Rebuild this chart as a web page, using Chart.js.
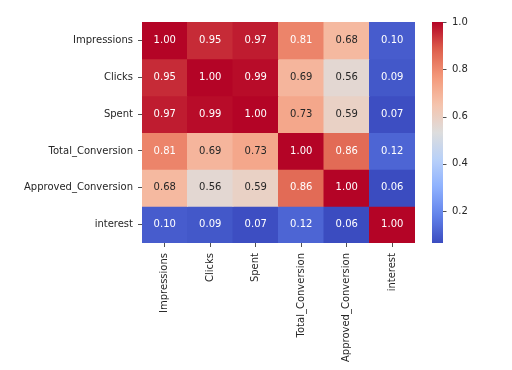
<!DOCTYPE html>
<html>
<head>
<meta charset="utf-8">
<script src="https://cdn.jsdelivr.net/npm/chart.js@4.4.1/dist/chart.umd.min.js"></script>
<style>
  html, body { margin: 0; padding: 0; background: #ffffff; }
  #wrap { width: 512px; height: 370px; }
</style>
</head>
<body>
<div id="wrap"><canvas id="c" width="512" height="370"></canvas></div>
<script>
// ---- data ----
const categories = ['Impressions', 'Clicks', 'Spent', 'Total_Conversion', 'Approved_Conversion', 'interest'];
const impressions        = [1.00, 0.95, 0.97, 0.81, 0.68, 0.10];
const clicks             = [0.95, 1.00, 0.99, 0.69, 0.56, 0.09];
const spent              = [0.97, 0.99, 1.00, 0.73, 0.59, 0.07];
const totalConversion    = [0.81, 0.69, 0.73, 1.00, 0.86, 0.12];
const approvedConversion = [0.68, 0.56, 0.59, 0.86, 1.00, 0.06];
const interest           = [0.10, 0.09, 0.07, 0.12, 0.06, 1.00];
const colorbarTicks      = [0.2, 0.4, 0.6, 0.8, 1.0];
const colorMin = 0.065, colorMax = 1.0;

const rows = [impressions, clicks, spent, totalConversion, approvedConversion, interest];

// ---- coolwarm colormap ----
const cwStops = [
  [0.000, [59, 76, 192]],
  [0.125, [98, 130, 234]],
  [0.250, [141, 176, 254]],
  [0.375, [184, 208, 249]],
  [0.500, [221, 221, 221]],
  [0.625, [245, 196, 173]],
  [0.750, [244, 154, 123]],
  [0.875, [222, 96, 77]],
  [1.000, [180, 4, 38]]
];
function coolwarmRGB(v) {
  let t = (v - colorMin) / (colorMax - colorMin);
  t = Math.max(0, Math.min(1, t));
  for (let i = 1; i < cwStops.length; i++) {
    if (t <= cwStops[i][0]) {
      const [t0, c0] = cwStops[i - 1], [t1, c1] = cwStops[i];
      const f = (t - t0) / (t1 - t0);
      return c0.map((c, k) => Math.round(c + (c1[k] - c) * f));
    }
  }
  return cwStops[cwStops.length - 1][1];
}
function coolwarm(v) { const c = coolwarmRGB(v); return `rgb(${c[0]},${c[1]},${c[2]})`; }
function textColorFor(v) {
  const lin = coolwarmRGB(v).map(c => { c /= 255; return c <= 0.03928 ? c / 12.92 : Math.pow((c + 0.055) / 1.055, 2.4); });
  const lum = 0.2126 * lin[0] + 0.7152 * lin[1] + 0.0722 * lin[2];
  return lum > 0.408 ? '#262626' : '#ffffff';
}

const FONT = { family: 'DejaVu Sans', size: 10 };
const TXT = '#262626';

const datasets = rows.map((row, i) => ({
  label: categories[i],
  data: row.map(() => [i, i + 1]),
  values: row,
  backgroundColor: row.map(v => coolwarm(v)),
  borderWidth: 0,
  inflateAmount: 0.5,
  barPercentage: 1,
  categoryPercentage: 1,
  grouped: false
}));

const annotatePlugin = {
  id: 'annotate',
  afterDatasetsDraw(chart) {
    const ctx = chart.ctx;
    ctx.save();
    ctx.font = '10px "DejaVu Sans"';
    ctx.textAlign = 'center';
    ctx.textBaseline = 'middle';
    chart.data.datasets.forEach((ds, di) => {
      const meta = chart.getDatasetMeta(di);
      meta.data.forEach((el, j) => {
        const v = ds.values[j];
        ctx.fillStyle = textColorFor(v);
        ctx.fillText(v.toFixed(2), el.x, (el.y + el.base) / 2);
      });
    });
    ctx.restore();
  }
};

const colorbarPlugin = {
  id: 'colorbar',
  afterDraw(chart) {
    const ctx = chart.ctx;
    const s = chart.scales.cb;
    const x0 = chart.chartArea.right + 17, x1 = chart.chartArea.right + 28;
    const yTop = s.getPixelForValue(colorMax), yBot = s.getPixelForValue(colorMin);
    const g = ctx.createLinearGradient(0, yBot, 0, yTop);
    for (let k = 0; k <= 50; k++) {
      const v = colorMin + (colorMax - colorMin) * k / 50;
      g.addColorStop(k / 50, coolwarm(v));
    }
    ctx.save();
    ctx.fillStyle = g;
    ctx.fillRect(x0, yTop, x1 - x0, yBot - yTop);
    ctx.strokeStyle = TXT;
    ctx.lineWidth = 0.8;
    colorbarTicks.forEach(t => {
      const y = Math.round(s.getPixelForValue(t)) + 0.5;
      ctx.beginPath();
      ctx.moveTo(x1, y);
      ctx.lineTo(x1 + 3.5, y);
      ctx.stroke();
    });
    ctx.restore();
  }
};

function noPad(s) { s.paddingTop = 0; s.paddingBottom = 0; }

new Chart(document.getElementById('c'), {
  type: 'bar',
  data: { labels: categories, datasets },
  plugins: [annotatePlugin, colorbarPlugin],
  options: {
    responsive: false,
    animation: false,
    devicePixelRatio: 1,
    layout: { padding: { top: 22, left: 0, right: 0, bottom: 0 } },
    plugins: { legend: { display: false }, tooltip: { enabled: false } },
    scales: {
      x: {
        type: 'category',
        offset: true,
        grid: { offset: false, drawOnChartArea: false, drawTicks: true, tickLength: 4, color: TXT, lineWidth: 0.8 },
        border: { display: false },
        ticks: { font: FONT, color: TXT, minRotation: 90, maxRotation: 90, padding: 6, autoSkip: false },
        afterFit(s) { s.height = 127; s.paddingLeft = 0; s.paddingRight = 0; }
      },
      y: {
        type: 'linear',
        position: 'left',
        min: 0, max: rows.length,
        reverse: true,
        afterBuildTicks(s) { s.ticks = categories.map((c, i) => ({ value: i + 0.5 })); },
        grid: { drawOnChartArea: false, drawTicks: true, tickLength: 4, color: TXT, lineWidth: 0.8 },
        border: { display: false },
        ticks: { font: FONT, color: TXT, padding: 5, autoSkip: false, callback: (v) => categories[Math.floor(v)] },
        afterFit(s) { s.width = 142; noPad(s); }
      },
      cb: {
        type: 'linear',
        position: 'right',
        min: colorMin, max: colorMax,
        afterBuildTicks(s) { s.ticks = colorbarTicks.map(v => ({ value: v })); },
        grid: { display: false, drawOnChartArea: false },
        border: { display: false },
        ticks: { font: FONT, color: TXT, padding: 29, callback: (v) => v.toFixed(1) },
        afterFit(s) { s.width = 97; noPad(s); }
      }
    }
  }
});
</script>
</body>
</html>
